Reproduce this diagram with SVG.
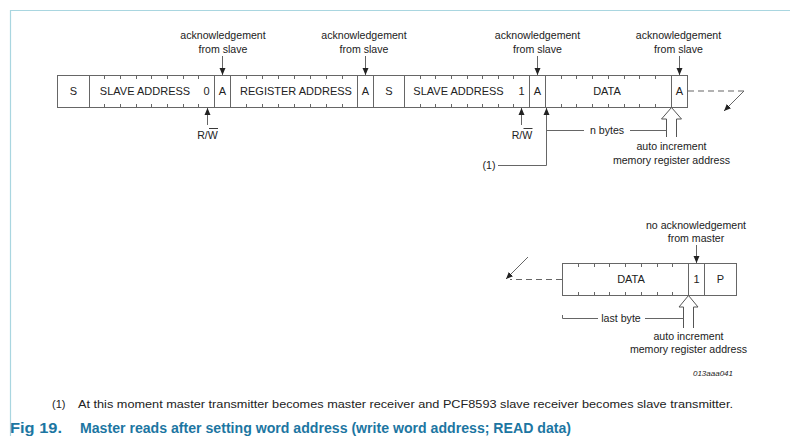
<svg xmlns="http://www.w3.org/2000/svg" width="790" height="436" viewBox="0 0 790 436">
<style>
text{font-family:"Liberation Sans",Arial,sans-serif;fill:#222;}
.bx{font-size:11px;text-anchor:middle;}
.lb{font-size:10.6px;text-anchor:middle;}
.box{fill:#fff;stroke:#666;stroke-width:1;}
.tk{stroke:#666;stroke-width:1;}
.ln{stroke:#666;stroke-width:1;fill:none;}
.dash{stroke:#666;stroke-width:1.2;fill:none;stroke-dasharray:6 4;}
.hol{fill:#fff;stroke:#555;stroke-width:1;}
.cap{font-size:14px;font-weight:bold;fill:#1c76a2;}
</style>
<defs>
<marker id="ah" markerWidth="8" markerHeight="8" refX="7" refY="4" orient="auto" markerUnits="userSpaceOnUse">
<path d="M0,1 L7,4 L0,7 z" fill="#222"/>
</marker>
</defs>
<g id="frame">
<line x1="10" y1="10.5" x2="790" y2="10.5" stroke="#a9d6e0" stroke-width="1.2"/>
<line x1="10.5" y1="10" x2="10.5" y2="436" stroke="#a9d6e0" stroke-width="1.2"/>
</g>
<g id="top-frame">
<rect class="box" x="57.5" y="75.5" width="630" height="32"/>
<g class="tk">
<line x1="89.5" y1="75.5" x2="89.5" y2="107.5"/>
<line x1="214.5" y1="75.5" x2="214.5" y2="107.5"/>
<line x1="230.5" y1="75.5" x2="230.5" y2="107.5"/>
<line x1="357.5" y1="75.5" x2="357.5" y2="107.5"/>
<line x1="373.5" y1="75.5" x2="373.5" y2="107.5"/>
<line x1="404.5" y1="75.5" x2="404.5" y2="107.5"/>
<line x1="529.5" y1="75.5" x2="529.5" y2="107.5"/>
<line x1="545.5" y1="75.5" x2="545.5" y2="107.5"/>
<line x1="671.5" y1="75.5" x2="671.5" y2="107.5"/>
</g>
<g class="tk" id="ticks-top">
<path d="M104.5,75v4M104.5,108v-4M120.5,75v4M120.5,108v-4M136.5,75v4M136.5,108v-4M151.5,75v4M151.5,108v-4M167.5,75v4M167.5,108v-4M183.5,75v4M183.5,108v-4M198.5,75v4M198.5,108v-4"/>
<path d="M246.5,75v4M246.5,108v-4M262.5,75v4M262.5,108v-4M278.5,75v4M278.5,108v-4M294.5,75v4M294.5,108v-4M310.5,75v4M310.5,108v-4M326.5,75v4M326.5,108v-4M342.5,75v4M342.5,108v-4"/>
<path d="M420.5,75v4M420.5,108v-4M435.5,75v4M435.5,108v-4M451.5,75v4M451.5,108v-4M467.5,75v4M467.5,108v-4M482.5,75v4M482.5,108v-4M498.5,75v4M498.5,108v-4M513.5,75v4M513.5,108v-4"/>
<path d="M561.5,75v4M561.5,108v-4M576.5,75v4M576.5,108v-4M592.5,75v4M592.5,108v-4M608.5,75v4M608.5,108v-4M624.5,75v4M624.5,108v-4M639.5,75v4M639.5,108v-4M655.5,75v4M655.5,108v-4"/>
</g>
<text class="bx" x="73.5" y="95">S</text>
<text class="bx" x="145" y="95">SLAVE ADDRESS</text>
<text class="bx" x="206.5" y="95">0</text>
<text class="bx" x="222.5" y="95">A</text>
<text class="bx" x="296" y="95">REGISTER ADDRESS</text>
<text class="bx" x="365.5" y="95">A</text>
<text class="bx" x="389" y="95">S</text>
<text class="bx" x="458.5" y="95">SLAVE ADDRESS</text>
<text class="bx" x="521.5" y="95">1</text>
<text class="bx" x="537.5" y="95">A</text>
<text class="bx" x="607" y="95">DATA</text>
<text class="bx" x="679.5" y="95">A</text>
</g>
<g id="ack1">
<text class="lb" x="223" y="39">acknowledgement</text>
<text class="lb" x="223" y="53">from slave</text>
</g>
<g id="ack2">
<text class="lb" x="364" y="39">acknowledgement</text>
<text class="lb" x="364" y="53">from slave</text>
</g>
<g id="ack3">
<text class="lb" x="537.5" y="39">acknowledgement</text>
<text class="lb" x="537.5" y="53">from slave</text>
</g>
<g id="ack4">
<text class="lb" x="678.5" y="39">acknowledgement</text>
<text class="lb" x="678.5" y="53">from slave</text>
</g>
<g id="rw1">
<text class="lb" x="207.5" y="139">R/W</text>
<line x1="209" y1="128.5" x2="218" y2="128.5" stroke="#222" stroke-width="0.9"/>
</g>
<g id="rw2">
<text class="lb" x="522" y="139">R/W</text>
<line x1="523.5" y1="128.5" x2="532.5" y2="128.5" stroke="#222" stroke-width="0.9"/>
</g>
<g id="note1">
<text class="lb" x="489" y="169">(1)</text>
</g>
<g id="nbytes">
<text class="lb" x="607" y="134">n bytes</text>
</g>
<g id="auto1">
<polyline class="hol" points="666.5,137 666.5,119 661.5,119 671.5,107.5 681.5,119 676.5,119 676.5,137"/>
<text class="lb" x="671.5" y="150">auto increment</text>
<text class="lb" x="671.5" y="164">memory register address</text>
</g>
<g id="bottom-frame">
<rect class="box" x="562.5" y="263.5" width="174" height="32"/>
<line class="tk" x1="688.5" y1="263.5" x2="688.5" y2="295.5"/>
<line class="tk" x1="704.5" y1="263.5" x2="704.5" y2="295.5"/>
<path class="tk" d="M578.5,263v4M578.5,296v-4M594.5,263v4M594.5,296v-4M609.5,263v4M609.5,296v-4M625.5,263v4M625.5,296v-4M641.5,263v4M641.5,296v-4M657.5,263v4M657.5,296v-4M672.5,263v4M672.5,296v-4"/>
<text class="bx" x="631" y="283">DATA</text>
<text class="bx" x="696.5" y="283">1</text>
<text class="bx" x="720.5" y="283">P</text>
</g>
<g id="nack">
<text class="lb" x="696" y="229">no acknowledgement</text>
<text class="lb" x="696" y="242">from master</text>
</g>
<g id="lastbyte">
<text class="lb" x="621" y="322">last byte</text>
</g>
<g id="auto2">
<polyline class="hol" points="683.5,328 683.5,307 679,307 688.5,295.5 698,307 693.5,307 693.5,328"/>
<text class="lb" x="688.5" y="340">auto increment</text>
<text class="lb" x="688.5" y="353">memory register address</text>
</g>
<g id="connectors">
<line class="ln" x1="222.5" y1="56" x2="222.5" y2="75" marker-end="url(#ah)"/>
<line class="ln" x1="365.5" y1="56" x2="365.5" y2="75" marker-end="url(#ah)"/>
<line class="ln" x1="537.5" y1="56" x2="537.5" y2="75" marker-end="url(#ah)"/>
<line class="ln" x1="679.5" y1="56" x2="679.5" y2="75" marker-end="url(#ah)"/>
<line class="ln" x1="207.5" y1="125" x2="207.5" y2="108" marker-end="url(#ah)"/>
<line class="ln" x1="521.5" y1="125" x2="521.5" y2="108" marker-end="url(#ah)"/>
<polyline class="ln" points="498,165.5 546.5,165.5 546.5,108" marker-end="url(#ah)"/>
<line class="ln" x1="546.5" y1="130.5" x2="584" y2="130.5"/>
<line class="ln" x1="630" y1="130.5" x2="666.5" y2="130.5"/>
<line class="dash" x1="688" y1="91" x2="744" y2="91"/>
<line class="ln" x1="744" y1="91" x2="724" y2="111" marker-end="url(#ah)"/>
<line class="ln" x1="696.5" y1="245" x2="696.5" y2="263" marker-end="url(#ah)"/>
<line class="dash" x1="562" y1="279.5" x2="510" y2="279.5"/>
<line class="ln" x1="528" y1="257" x2="506" y2="279" marker-end="url(#ah)"/>
<polyline class="ln" points="562.5,315 562.5,318.5 598,318.5"/>
<line class="ln" x1="645" y1="318.5" x2="683.5" y2="318.5"/>
</g>
<g id="code">
<text x="713" y="376" font-size="8" font-style="italic" text-anchor="middle">013aaa041</text>
</g>
<g id="footnote">
<text x="52" y="408" font-size="11">(1)</text>
<text x="78" y="408" font-size="11" textLength="655" lengthAdjust="spacingAndGlyphs">At this moment master transmitter becomes master receiver and PCF8593 slave receiver becomes slave transmitter.</text>
</g>
<g id="caption">
<text class="cap" x="10" y="433" textLength="52" lengthAdjust="spacingAndGlyphs">Fig 19.</text>
<text class="cap" x="80" y="433" textLength="491" lengthAdjust="spacingAndGlyphs">Master reads after setting word address (write word address; READ data)</text>
</g>
</svg>
